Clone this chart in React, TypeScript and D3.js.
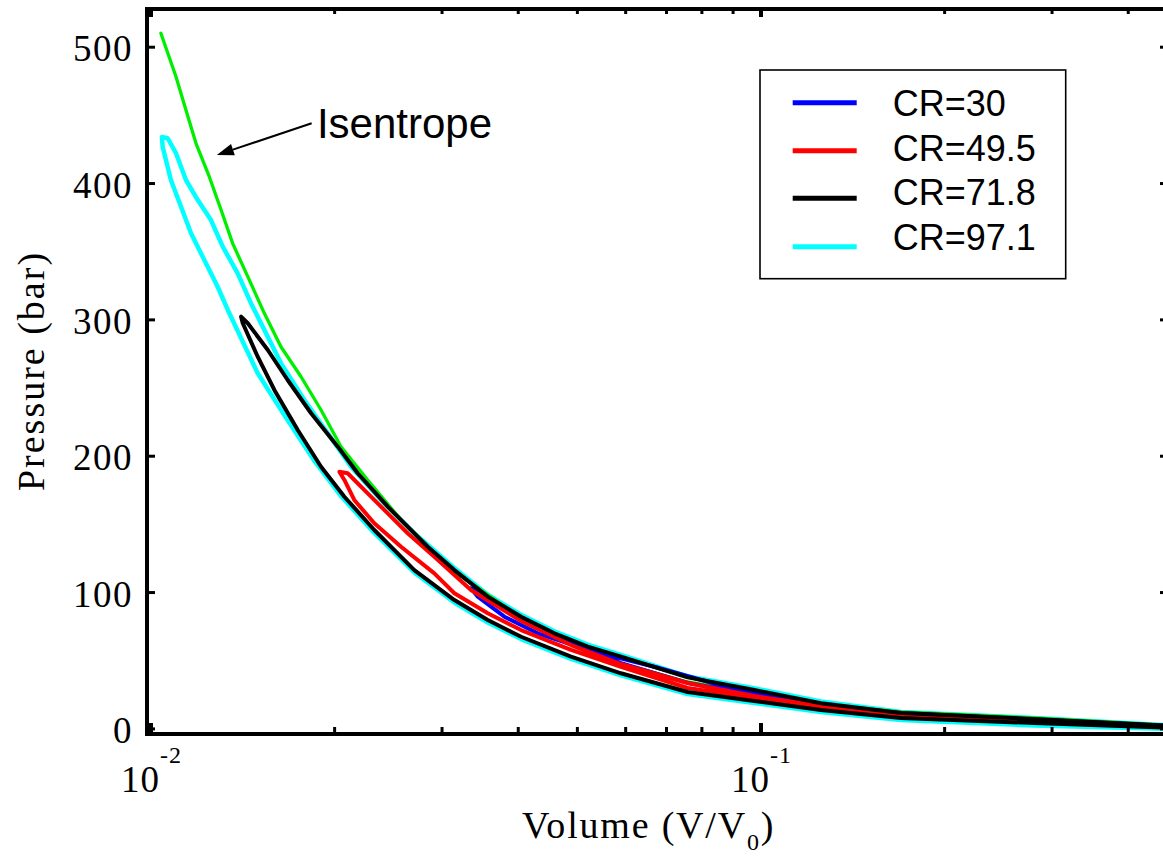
import React from "react";
import * as d3 from "d3";

// ---------- data (V/V0, pressure in bar) ----------
const isentrope: [number, number][] = [
  [0.01038, 510.2], [0.01099, 478.3], [0.01141, 453.9], [0.01185, 429.5], [0.01246, 405.0],
  [0.01303, 380.6], [0.01361, 356.1], [0.01441, 331.7], [0.01534, 304.8], [0.01633, 280.3],
  [0.01762, 258.3], [0.019, 233.9], [0.02049, 207.0], [0.02266, 182.6], [0.0257, 153.2],
  [0.02842, 133.6], [0.03223, 112.0], [0.03346, 107.0], [0.04043, 81.3], [0.04882, 62.8],
  [0.05896, 48.1], [0.07584, 34.4], [0.09739, 26.3], [0.1254, 18.0], [0.1697, 12.4],
  [0.2803, 8.0], [0.4578, 2.9],
];

const cr97: [number, number][] = [
  [0.4578, 2.9], [0.2803, 8.0], [0.1696, 12.4], [0.1254, 20.1], [0.0975, 29.8], [0.07583, 38.5],
  [0.05894, 54.2], [0.052, 61.8], [0.04584, 71.6], [0.04043, 83.8], [0.03565, 98.4], [0.03143, 118.0],
  [0.02702, 143.5], [0.02383, 167.9], [0.02128, 192.3], [0.01949, 216.8], [0.01784, 241.2],
  [0.01634, 268.1], [0.01459, 312.1], [0.01387, 334.1], [0.01311, 353.7], [0.01254, 373.2],
  [0.01193, 387.9], [0.01141, 402.6], [0.01099, 422.2], [0.01065, 433.2], [0.01042, 434.1],
  [0.01045, 427.0], [0.01078, 402.6], [0.0112, 383.0], [0.01163, 363.5], [0.01223, 343.9],
  [0.01286, 324.3], [0.01344, 304.8], [0.01496, 260.8], [0.01654, 230.2], [0.01853, 196.5],
  [0.02049, 170.8], [0.02323, 143.7], [0.02702, 114.7], [0.03143, 92.7], [0.03565, 78.0],
  [0.04043, 65.9], [0.04881, 51.3], [0.05894, 39.2], [0.07583, 25.6], [0.0975, 19.0],
  [0.1254, 12.4], [0.1696, 6.5], [0.2803, 2.5], [0.4578, 0.0],
];

const cr718: [number, number][] = [
  [0.4578, 2.5], [0.2803, 7.3], [0.1696, 11.7], [0.1254, 18.8], [0.0975, 28.5], [0.07583, 37.8],
  [0.05894, 53.0], [0.052, 60.3], [0.04584, 70.1], [0.04043, 82.3], [0.03565, 97.0], [0.03143, 116.5],
  [0.02842, 133.6], [0.02444, 163.0], [0.02182, 187.5], [0.02024, 207.0], [0.0183, 231.5],
  [0.01675, 255.9], [0.01554, 277.9], [0.01441, 297.5], [0.01405, 302.3],
  [0.01414, 297.5], [0.01496, 273.0], [0.01593, 248.6], [0.0174, 219.2], [0.019, 192.3],
  [0.02075, 170.3], [0.02323, 145.9], [0.02702, 116.5], [0.03143, 94.5], [0.03565, 79.9],
  [0.04043, 67.6], [0.04881, 53.0], [0.05894, 40.8], [0.07583, 27.1], [0.0975, 20.5],
  [0.1254, 13.9], [0.1696, 8.0], [0.2803, 4.3], [0.4578, 1.0],
];

const cr495: [number, number][] = [
  [0.4578, 2.1], [0.2803, 6.5], [0.1696, 10.9], [0.1254, 16.8], [0.0975, 24.1], [0.07583, 33.7],
  [0.05894, 47.6], [0.04881, 61.5], [0.04043, 79.1], [0.03346, 101.9], [0.02914, 126.3],
  [0.02635, 143.5], [0.02444, 158.1], [0.02266, 172.8], [0.02101, 187.5], [0.02036, 188.6],
  [0.02075, 182.6], [0.02154, 167.9], [0.02323, 150.8], [0.0257, 133.6], [0.02914, 114.1],
  [0.03143, 99.5], [0.03565, 84.8], [0.04043, 72.5], [0.04881, 57.9], [0.05894, 45.6],
  [0.07583, 30.0], [0.0975, 22.7], [0.1254, 16.1], [0.1696, 9.5], [0.2803, 5.1], [0.4578, 1.4],
];

const cr30: [number, number][] = [
  [0.4578, 2.5], [0.2803, 6.9], [0.1696, 11.7], [0.1254, 17.5], [0.0975, 24.9], [0.07583, 33.7],
  [0.05894, 48.3], [0.04881, 62.3], [0.04043, 80.6], [0.03565, 96.0], [0.03347, 103.1],
  [0.03433, 97.0], [0.03796, 82.3], [0.04305, 70.1], [0.052, 57.9], [0.06685, 45.6],
  [0.086, 31.8], [0.1106, 21.0], [0.1696, 10.2], [0.2803, 5.4], [0.4578, 1.8],
];

const legendNames = ["CR=30", "CR=49.5", "CR=71.8", "CR=97.1"];
const legendColors = ["#0000ff", "#ff0000", "#000000", "#00ffff"];

const yTicks = [0, 100, 200, 300, 400, 500];
const xMajorTicks = [0.01, 0.1];
const xMajorExp = ["-2", "-1"];
const xMinorTicks = [0.02, 0.03, 0.04, 0.05, 0.06, 0.07, 0.08, 0.09, 0.2, 0.3, 0.4];

// annotation anchor points (data units)
const arrowTip: [number, number] = [0.01282, 420.9];
const arrowTail: [number, number] = [0.01834, 444.2];
const isentropeLabelAt: [number, number] = [0.01871, 433.4];

// ---------- layout ----------
const W = 1163;
const H = 858;
const axL = 147;
const axR = 1168;
const axT = 9;
const axB = 734;

const SERIF = "'Liberation Serif', 'Times New Roman', serif";
const SANS = "'Liberation Sans', Arial, sans-serif";

export default function App() {
  const x = d3.scaleLog().domain([0.01, 0.1]).range([151, 761]);
  const y = d3.scaleLinear().domain([0, 500]).range([728.9, 47.2]);
  const line = d3
    .line<[number, number]>()
    .x((d) => x(d[0]))
    .y((d) => y(d[1]))
    .curve(d3.curveLinear);

  const series = [
    { data: cr97, color: "#00ffff", w: 4.5 },
    { data: isentrope, color: "#00ee00", w: 3.3 },
    { data: cr30, color: "#0000ff", w: 4 },
    { data: cr495, color: "#ff0000", w: 4 },
    { data: cr718, color: "#000000", w: 4 },
  ];

  // arrow geometry
  const tx = x(arrowTip[0]);
  const ty = y(arrowTip[1]);
  const sx = x(arrowTail[0]);
  const sy = y(arrowTail[1]);
  const len = Math.hypot(tx - sx, ty - sy);
  const ux = (tx - sx) / len;
  const uy = (ty - sy) / len;
  const headL = 17;
  const headW = 6;
  const bx = tx - ux * headL;
  const by = ty - uy * headL;
  const head = `${tx},${ty} ${bx - uy * headW},${by + ux * headW} ${bx + uy * headW},${by - ux * headW}`;

  const legendX = 760;
  const legendY = 70;
  const lineYs = [102.7, 150.7, 198.3, 246.7];
  const textYs = [116, 160.7, 205, 250];

  return (
    <svg
      width={W}
      height={H}
      style={{ position: "absolute", left: 0, top: 0, background: "#fff" }}
    >
      <rect x={0} y={0} width={W} height={H} fill="#fff" />
      <defs>
        <clipPath id="plotClip">
          <rect x={axL} y={axT} width={axR - axL} height={axB - axT} />
        </clipPath>
      </defs>

      <g clipPath="url(#plotClip)">
        {series.map((s, i) => (
          <path
            key={i}
            d={line(s.data) || ""}
            fill="none"
            stroke={s.color}
            strokeWidth={s.w}
            strokeLinejoin="round"
            strokeLinecap="round"
          />
        ))}
      </g>

      {/* frame */}
      <g stroke="#000" strokeWidth={4} strokeLinecap="square">
        <line x1={axL} x2={axL} y1={axT} y2={axB} />
        <line x1={axL} x2={axR} y1={axT} y2={axT} />
        <line x1={axL} x2={axR} y1={axB} y2={axB} />
        <line x1={axR} x2={axR} y1={axT} y2={axB} />
      </g>

      {/* y ticks */}
      <g stroke="#000" strokeWidth={3}>
        {yTicks.map((t) => (
          <g key={t}>
            <line x1={axL} x2={axL + 8} y1={y(t)} y2={y(t)} />
            <line x1={axR - 8} x2={axR} y1={y(t)} y2={y(t)} />
          </g>
        ))}
      </g>
      <g fontFamily={SERIF} fontSize={37} textAnchor="end" fill="#000">
        {yTicks.map((t) => (
          <text key={t} x={133} y={y(t) + 14} letterSpacing={1.5}>
            {t}
          </text>
        ))}
      </g>

      {/* x ticks */}
      <g stroke="#000">
        {xMajorTicks.map((t) => (
          <g key={t} strokeWidth={4}>
            <line x1={x(t)} x2={x(t)} y1={axB} y2={axB - 11} />
            <line x1={x(t)} x2={x(t)} y1={axT} y2={axT + 8} />
          </g>
        ))}
        {xMinorTicks.map((t) => (
          <g key={t} strokeWidth={3}>
            <line x1={x(t)} x2={x(t)} y1={axB} y2={axB - 7} />
            <line x1={x(t)} x2={x(t)} y1={axT} y2={axT + 5} />
          </g>
        ))}
      </g>
      <g fontFamily={SERIF} fill="#000">
        {xMajorTicks.map((t, i) => (
          <text key={t} x={x(t) - 30} y={792} fontSize={37} letterSpacing={1}>
            10
            <tspan dy={-29} fontSize={24}>
              {xMajorExp[i]}
            </tspan>
          </text>
        ))}
      </g>

      {/* axis titles */}
      <text x={522} y={838} fontFamily={SERIF} fontSize={38} letterSpacing={1.8} fill="#000">
        Volume (V/V
        <tspan dy={12} fontSize={24}>
          0
        </tspan>
        <tspan dy={-12}>)</tspan>
      </text>
      <text
        transform="translate(44,371) rotate(-90)"
        textAnchor="middle"
        fontFamily={SERIF}
        fontSize={38}
        letterSpacing={2}
        fill="#000"
      >
        Pressure (bar)
      </text>

      {/* annotation */}
      <line x1={sx} y1={sy} x2={bx} y2={by} stroke="#000" strokeWidth={2} />
      <polygon points={head} fill="#000" />
      <text
        x={x(isentropeLabelAt[0])}
        y={y(isentropeLabelAt[1])}
        fontFamily={SANS}
        fontSize={42}
        fill="#000"
      >
        Isentrope
      </text>

      {/* legend */}
      <rect
        x={legendX}
        y={legendY}
        width={305.7}
        height={208.7}
        fill="#fff"
        stroke="#000"
        strokeWidth={1.6}
      />
      {legendNames.map((n, i) => (
        <g key={n}>
          <line
            x1={792.7}
            x2={856.7}
            y1={lineYs[i]}
            y2={lineYs[i]}
            stroke={legendColors[i]}
            strokeWidth={5}
          />
          <text x={892.7} y={textYs[i]} fontFamily={SANS} fontSize={36} fill="#000">
            {n}
          </text>
        </g>
      ))}
    </svg>
  );
}
